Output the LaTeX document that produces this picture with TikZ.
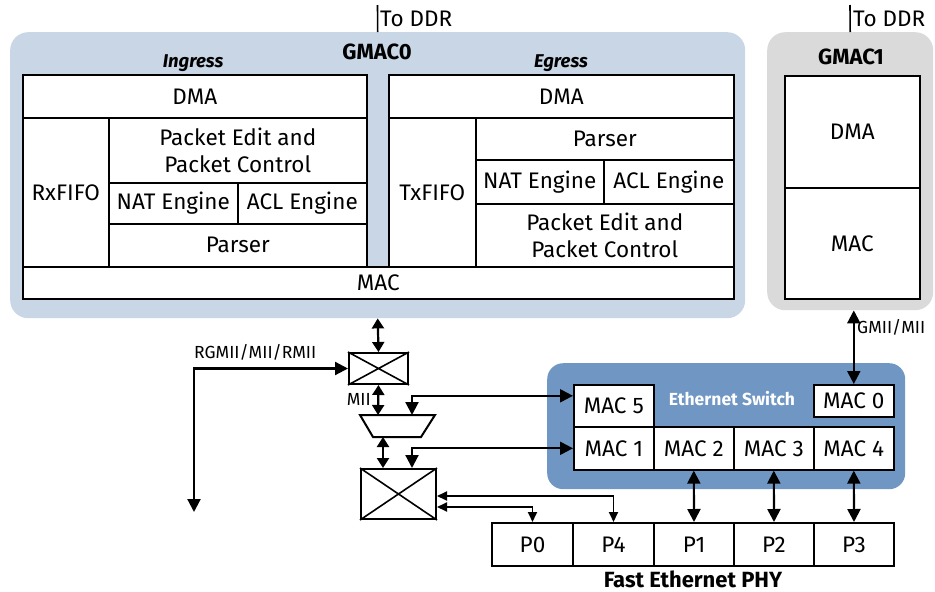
\documentclass[tikz,border=0pt]{standalone}
\usepackage{fontspec}
\setmainfont{Fira Sans}
\usetikzlibrary{arrows.meta}

\definecolor{gmacblue}{RGB}{200,214,230}
\definecolor{gmacgray}{RGB}{218,218,218}
\definecolor{swblue}{RGB}{112,150,196}

\begin{document}
\begin{tikzpicture}[x=1pt, y=-1pt,
    every node/.style={font=\fontsize{22.5}{27}\selectfont},
    cell/.style={draw, fill=white, line width=1.6pt, inner sep=0pt, align=center, anchor=north west},
    gmacbg/.style={rounded corners=18pt, inner sep=0pt, anchor=north west},
    xbar/.style={draw, line width=2pt, inner sep=0pt, anchor=north west},
    title/.style={font=\fontsize{22}{26}\selectfont\bfseries},
    small/.style={font=\fontsize{17.5}{20}\selectfont},
    dbl/.style={line width=2.2pt, {Triangle[length=13pt, width=13pt]}-{Triangle[length=13pt, width=13pt]}},
    mdbl/.style={line width=2.2pt, {Triangle[length=10pt, width=12pt]}-{Triangle[length=10pt, width=12pt]}},
    sdbl/.style={line width=1.8pt, {Triangle[length=10pt, width=9pt]}-{Triangle[length=10pt, width=9pt]}}]
    \useasboundingbox (0,0) rectangle (935,592);

    % GMAC0
    \node[gmacbg, fill=gmacblue, minimum width=735pt, minimum height=286pt] (gmac0) at (10,32) {};
    \node[title] (g0lbl) at (377,52) {GMAC0};
    \node[title, font=\fontsize{18.5}{22}\selectfont\bfseries\itshape] (inglbl) at (193,63) {Ingress};
    \node[title, font=\fontsize{18.5}{22}\selectfont\bfseries\itshape] (eglbl) at (561,63) {Egress};
    \coordinate (ddr0top) at (377.5,5);
    \draw[line width=1.6pt] (ddr0top) -- (gmac0.north);
    \node[anchor=west, inner sep=2pt] (ddr0) at (378,19) {To DDR};

    % ingress path
    \node[cell, minimum width=344pt, minimum height=43pt] (idma) at (22,74) {DMA};
    \node[cell, minimum width=86pt, minimum height=149pt] (rxfifo) at (22,117) {RxFIFO};
    \node[cell, minimum width=258pt, minimum height=65pt] (iedit) at (108,117) {Packet Edit and\\Packet Control};
    \node[cell, minimum width=129pt, minimum height=41pt] (inat) at (108,182) {NAT Engine};
    \node[cell, minimum width=129pt, minimum height=41pt] (iacl) at (237,182) {ACL Engine};
    \node[cell, minimum width=258pt, minimum height=43pt] (iparse) at (108,223) {Parser};

    % egress path
    \node[cell, minimum width=345pt, minimum height=43pt] (edma) at (388,74) {DMA};
    \node[cell, minimum width=87pt, minimum height=149pt] (txfifo) at (388,117) {TxFIFO};
    \node[cell, minimum width=258pt, minimum height=42pt] (eparse) at (475,117) {Parser};
    \node[cell, minimum width=128pt, minimum height=44pt] (enat) at (475,159) {NAT Engine};
    \node[cell, minimum width=130pt, minimum height=44pt] (eacl) at (603,159) {ACL Engine};
    \node[cell, minimum width=258pt, minimum height=63pt] (eedit) at (475,203) {Packet Edit and\\Packet Control};
    \node[cell, minimum width=711pt, minimum height=32pt] (g0mac) at (22,266) {MAC};

    % GMAC1
    \node[gmacbg, fill=gmacgray, minimum width=166pt, minimum height=278pt] (gmac1) at (767,32) {};
    \node[title] (g1lbl) at (851,57) {GMAC1};
    \coordinate (ddr1top) at (850,5);
    \draw[line width=1.6pt] (ddr1top) -- (gmac1.north);
    \node[anchor=west, inner sep=2pt] (ddr1) at (851,19) {To DDR};
    \node[cell, minimum width=135pt, minimum height=112pt] (g1dma) at (784,75) {DMA};
    \node[cell, minimum width=135pt, minimum height=111pt] (g1mac) at (784,187) {MAC};

    % switch
    \node[gmacbg, rounded corners=16pt, fill=swblue, minimum width=358pt, minimum height=126pt] (eswitch) at (547,363) {};
    \node[title, font=\fontsize{17.5}{20}\selectfont\bfseries, text=white] (swlbl) at (732,399) {Ethernet Switch};
    \node[cell, minimum width=80pt, minimum height=42pt] (mac5) at (573,384) {MAC 5};
    \node[cell, minimum width=80pt, minimum height=32pt] (mac0) at (813,384) {MAC 0};
    \node[cell, minimum width=80pt, minimum height=43pt] (mac1) at (573,426) {MAC 1};
    \node[cell, minimum width=80pt, minimum height=43pt] (mac2) at (653,426) {MAC 2};
    \node[cell, minimum width=80pt, minimum height=43pt] (mac3) at (733,426) {MAC 3};
    \node[cell, minimum width=80pt, minimum height=43pt] (mac4) at (813,426) {MAC 4};

    % PHY
    \node[cell, line width=2pt, minimum width=81pt, minimum height=43pt] (p0) at (491,522) {P0};
    \node[cell, line width=2pt, minimum width=81pt, minimum height=43pt] (p4) at (572,522) {P4};
    \node[cell, line width=2pt, minimum width=80pt, minimum height=43pt] (p1) at (653,522) {P1};
    \node[cell, line width=2pt, minimum width=80pt, minimum height=43pt] (p2) at (733,522) {P2};
    \node[cell, line width=2pt, minimum width=80pt, minimum height=43pt] (p3) at (813,522) {P3};
    \node[title] (phylbl) at (693,579) {Fast Ethernet PHY};

    \draw[dbl] (mac2.south) -- (p1.north);
    \draw[dbl] (mac3.south) -- (p2.north);
    \draw[dbl] (mac4.south) -- (p3.north);
    \draw[dbl] (mac0.north) -- (mac0.north |- gmac1.south);
    \node[small, anchor=west, inner sep=2pt] (gmiilbl) at (855,327) {GMII/MII};

    % muxes
    \node[xbar, minimum width=59pt, minimum height=31pt] (xbar1) at (348,352) {};
    \draw[line width=1.6pt] (xbar1.north west) -- (xbar1.south east) (xbar1.north east) -- (xbar1.south west);
    \node[xbar, minimum width=75pt, minimum height=50pt] (xbar2) at (360,468) {};
    \draw[line width=1.6pt] (xbar2.north west) -- (xbar2.south east) (xbar2.north east) -- (xbar2.south west);
    \draw[line width=2pt] (360,415) -- (435,415) -- (421,437) -- (373,437) -- cycle;
    \coordinate (muxin) at (378,415);
    \coordinate (muxsw) at (412,415);
    \coordinate (muxout) at (383,437);
    \coordinate (rgend) at (194,512);

    \draw[mdbl] (gmac0.south) -- (xbar1.north);
    \draw[dbl] (rgend) |- (xbar1.west);
    \node[small, anchor=west, inner sep=1pt] (rglbl) at (193,352) {RGMII/MII/RMII};
    \draw[mdbl] (xbar1.south) -- (muxin);
    \node[small, anchor=east, inner sep=1pt] (miilbl) at (372,399) {MII};
    \draw[dbl] (muxsw) |- ([yshift=10pt]mac5.west);
    \draw[mdbl] (muxout) -- (muxout |- xbar2.north);
    \draw[dbl] (xbar2.north -| muxsw) |- (mac1.west);
    \draw[sdbl] ([yshift=-2pt]xbar2.east) -| (p4.north);
    \draw[sdbl] ([yshift=-13pt]xbar2.east) -| (p0.north);
\end{tikzpicture}
\end{document}
